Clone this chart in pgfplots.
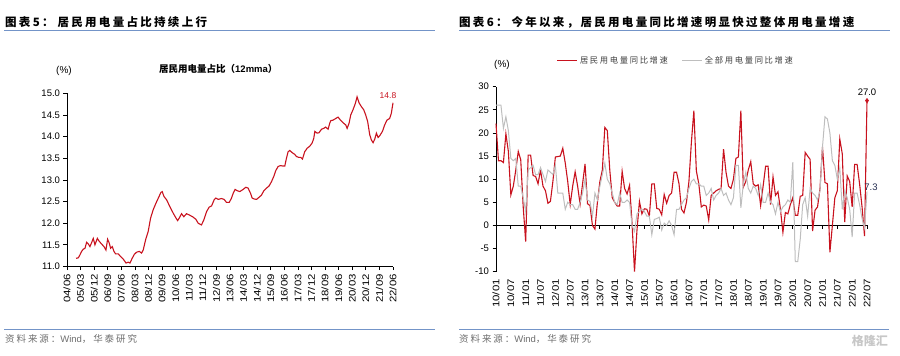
\documentclass[border=0pt]{standalone}
\usepackage{pgfplots}
\pgfplotsset{compat=1.18}
\usepackage{fontspec}
\setmainfont{Liberation Sans}
\newfontfamily\cjk{Noto Sans CJK SC}
\newfontfamily\cjkt{Noto Sans CJK SC}[LetterSpace=20]
\definecolor{myred}{RGB}{200,18,30}
\definecolor{mygray}{RGB}{190,190,190}
\definecolor{rulec}{RGB}{115,148,200}
\definecolor{srcc}{RGB}{110,110,110}
\definecolor{navyc}{RGB}{35,45,80}
\begin{document}
\begin{tikzpicture}[x=1pt,y=1pt]
\useasboundingbox (0pt,0pt) rectangle (900pt,-356pt);
% titles and rules
\node[anchor=west, inner sep=0] at (5pt,-22pt) {\bfseries\cjkt\fontsize{11.5}{12}\selectfont 图表5：\hspace{4pt}居民用电量占比持续上行};
\node[anchor=west, inner sep=0] at (459pt,-22pt) {\bfseries\cjkt\fontsize{11.5}{12}\selectfont 图表6：\hspace{4pt}今年以来，居民用电量同比增速明显快过整体用电量增速};
\draw[rulec, line width=0.9pt] (4pt,-30.3pt) -- (435pt,-30.3pt);
\draw[rulec, line width=0.9pt] (459pt,-30.3pt) -- (890pt,-30.3pt);
\draw[rulec, line width=0.9pt] (4pt,-329pt) -- (435pt,-329pt);
\draw[rulec, line width=0.9pt] (459pt,-329pt) -- (889pt,-329pt);
\node[anchor=west, inner sep=0, text=srcc] at (5pt,-339pt) {\cjkt\fontsize{9.5}{10}\selectfont 资料来源：{\fontspec{Liberation Sans}Wind}，华泰研究};
\node[anchor=west, inner sep=0, text=srcc] at (459pt,-339pt) {\cjkt\fontsize{9.5}{10}\selectfont 资料来源：{\fontspec{Liberation Sans}Wind}，华泰研究};
\node[anchor=east, inner sep=0, text=black!22] at (888pt,-341pt) {\bfseries\cjk\fontsize{12}{13}\selectfont 格隆汇};
% panel labels
\node[inner sep=0] at (64pt,-71pt) {\fontsize{10}{11}\selectfont (\%)};
\node[anchor=west, inner sep=0] at (159pt,-69pt) {\bfseries\cjk\fontsize{9.5}{10}\selectfont 居民用电量占比（{\fontspec{Liberation Sans}12mma}）};
\node[inner sep=0] at (502pt,-65pt) {\fontsize{10}{11}\selectfont (\%)};

\begin{axis}[
  at={(67pt,-266.5pt)}, anchor=south west, scale only axis,
  width=326pt, height=173.2pt,
  xmin=0, xmax=216, ymin=11, ymax=15,
  enlargelimits=false,
  axis lines*=left,
  axis line style={black, line width=0.9pt},
  tick align=outside, major tick length=3.5pt,
  tick style={black, line width=0.8pt},
  xtick={0,9,...,216},
  xticklabels={04/06,05/03,05/12,06/09,07/06,08/03,08/12,09/09,10/06,11/03,11/12,12/09,13/06,14/03,14/12,15/09,16/06,17/03,17/12,18/09,19/06,20/03,20/12,21/09,22/06},
  x tick label style={rotate=90, anchor=east, xscale=1.2, font=\fontsize{9.5}{10}\selectfont},
  ytick={11,11.5,...,15},
  y tick label style={font=\fontsize{9.5}{10}\selectfont},
  yticklabel style={/pgf/number format/.cd, fixed, fixed zerofill, precision=1, assume math mode=true},
  clip=false,
]
\addplot[myred, line width=1.1pt] coordinates {
(6,11.19)(7.5,11.2)(8.6,11.27)(9.7,11.35)(10.8,11.4)(11.9,11.42)(13.0,11.56)(14.1,11.52)(15.2,11.46)(16.3,11.55)(17.4,11.65)(18.5,11.5)(20.1,11.65)(21.4,11.58)(22.9,11.52)(24.5,11.46)(25.8,11.38)(26.9,11.63)(28.0,11.54)(28.9,11.42)(30.0,11.46)(31.1,11.35)(32.2,11.29)(34.0,11.29)(35.5,11.23)(37.3,11.17)(39.1,11.08)(40.6,11.1)(41.7,11.08)(43.2,11.19)(44.6,11.28)(46.1,11.33)(47.9,11.35)(49.4,11.31)(50.5,11.38)(52.1,11.62)(53.8,11.81)(55.4,12.12)(57.1,12.31)(58.9,12.46)(60.5,12.58)(62.2,12.71)(63.1,12.73)(64.2,12.62)(66.0,12.54)(68.2,12.38)(70.4,12.23)(72.2,12.12)(73.3,12.06)(74.4,12.12)(75.9,12.22)(77.4,12.15)(79.2,12.22)(81.0,12.19)(83.2,12.15)(85.4,12.09)(86.9,12.0)(89.1,11.96)(90.7,12.08)(92.5,12.27)(94.2,12.37)(95.8,12.4)(97.5,12.54)(98.6,12.58)(100.2,12.55)(102.4,12.57)(104.1,12.55)(105.7,12.48)(107.5,12.48)(109.0,12.58)(110.1,12.69)(111.4,12.78)(112.8,12.75)(114.5,12.73)(116.7,12.78)(118.5,12.83)(120.0,12.81)(121.6,12.69)(122.7,12.58)(124.0,12.56)(125.6,12.55)(127.3,12.6)(128.9,12.65)(130.4,12.75)(132.2,12.81)(133.9,12.86)(135.5,12.96)(137.0,13.08)(138.4,13.22)(139.9,13.31)(141.4,13.33)(143.2,13.32)(144.3,13.32)(145.4,13.5)(146.5,13.65)(147.6,13.68)(149.2,13.63)(150.9,13.59)(152.0,13.54)(153.6,13.52)(154.9,13.52)(156.0,13.48)(157.5,13.65)(159.1,13.73)(160.9,13.78)(162.4,13.85)(163.5,13.96)(164.2,14.12)(165.7,14.08)(167.0,14.09)(168.6,14.17)(170.1,14.19)(171.4,14.22)(173.0,14.17)(174.1,14.31)(174.8,14.37)(176.3,14.38)(178.1,14.42)(179.6,14.45)(181.2,14.38)(182.9,14.32)(184.7,14.27)(185.6,14.19)(186.9,14.31)(188.0,14.5)(189.5,14.62)(191.1,14.77)(192.2,14.92)(193.5,14.78)(195.1,14.69)(196.6,14.62)(197.9,14.5)(199.2,14.35)(200.6,14.04)(201.7,13.92)(202.8,13.86)(203.9,13.94)(205.0,14.08)(206.1,13.98)(207.2,14.02)(209.0,14.12)(210.5,14.27)(212.0,14.38)(213.8,14.42)(214.9,14.54)(216.0,14.78)
};
\node[text=myred, anchor=south, inner sep=0, font=\fontsize{8.5}{9}\selectfont] at (axis cs:216,14.78) [xshift=-5pt, yshift=4pt] {14.8};
\end{axis}

\begin{axis}[
  at={(496pt,-271.7pt)}, anchor=south west, scale only axis,
  width=371pt, height=185pt,
  xmin=0, xmax=150, ymin=-10, ymax=30,
  enlargelimits=false,
  axis y line*=left, axis x line*=middle,
  hide obscured x ticks=false, hide obscured y ticks=false,
  axis line style={black, line width=0.9pt},
  tick align=outside, major tick length=3.5pt,
  tick style={black, line width=0.8pt},
  xtick={0,6,...,150},
  xticklabels={10/01,10/07,11/01,11/07,12/01,12/07,13/01,13/07,14/01,14/07,15/01,15/07,16/01,16/07,17/01,17/07,18/01,18/07,19/01,19/07,20/01,20/07,21/01,21/07,22/01,22/07},
  xticklabel shift=46pt,
  x tick label style={rotate=90, anchor=east, xscale=1.2, font=\fontsize{9.5}{10}\selectfont},
  ytick={-10,-5,...,30},
  y tick label style={font=\fontsize{9.5}{10}\selectfont},
  yticklabel style={/pgf/number format/.cd, assume math mode=true},
  clip=false,
  legend style={at={(0.485,1)}, anchor=center, yshift=26pt, draw=none, fill=none, legend columns=2,
    font=\cjkt\fontsize{8.3}{9}\selectfont, text=black!75,
    /tikz/every even column/.append style={column sep=12pt}},
  legend image code/.code={\draw[#1] (0pt,0pt) -- (20pt,0pt);},
]
\addplot[myred, line width=1.1pt] coordinates {
(0,22)(1,14)(2,14)(3,13.6)(4,19.8)(5,16)(6,6.6)(7,8.5)(8,12)(9,16)(10,14.2)(11,4)(12,-3.5)(13,15.2)(14,15.2)(15,10.8)(16,10.6)(17,9)(18,12)(19,8.5)(20,7.5)(21,4.8)(22,5.2)(23,9.5)(24,14.8)(25,14.9)(26,15)(27,16.7)(28,13.5)(29,9.5)(30,4.5)(31,8.5)(32,11.6)(33,8.5)(34,4.6)(35,9)(36,13.3)(37,4.7)(38,4.3)(39,0)(40,-0.8)(41,5)(42,9.5)(43,12)(44,21.2)(45,20.5)(46,12)(47,6)(48,5)(49,4.2)(50,4.2)(51,11.7)(52,8)(53,6.8)(54,8.7)(55,0.5)(56,-10)(57,-1)(58,5.2)(59,2.5)(60,3.6)(61,3.5)(62,2)(63,9)(64,9)(65,3.7)(66,3.5)(67,2.3)(68,6.7)(69,4.8)(70,6.5)(71,7)(72,11.5)(73,11.5)(74,9)(75,3.5)(76,2.7)(77,5)(78,9.5)(79,18)(80,24.8)(81,11.8)(82,9)(83,4)(84,4.4)(85,4.2)(86,1.2)(87,6.5)(88,7)(89,7.5)(90,7.8)(91,8)(92,16.5)(93,11.5)(94,8.5)(95,8)(96,10)(97,14.5)(98,14.8)(99,24.8)(100,8.3)(101,9.5)(102,12)(103,13.8)(104,9)(105,8.5)(106,8.8)(107,4.3)(108,8.5)(109,12.8)(110,12.8)(111,4.5)(112,10.5)(113,6.5)(114,7.3)(115,3.5)(116,-1.5)(117,2.8)(118,2.5)(119,4.5)(120,6)(121,2.2)(122,2.2)(123,6.3)(124,6.5)(125,15.8)(126,15)(127,14.3)(128,-1.2)(129,3.3)(130,4)(131,8)(132,17)(133,9.3)(134,9)(135,-5.8)(136,0)(137,6)(138,7.5)(139,18.7)(140,15.5)(141,0.7)(142,10.7)(143,9.5)(144,4)(145,13.2)(146,13.2)(147,9)(148,4)(149,-2.3)(150,27)
};
\addlegendentry{居民用电量同比增速}
\addplot[mygray, line width=1pt] coordinates {
(0,26)(1,26)(2,26)(3,21)(4,23.5)(5,20.5)(6,14.5)(7,14)(8,14.5)(9,8.5)(10,8.5)(11,6)(12,3)(13,12)(14,12.5)(15,13)(16,11)(17,11)(18,12.5)(19,11)(20,9.5)(21,12)(22,11.5)(23,11)(24,13)(25,7)(26,7)(27,7)(28,3.5)(29,5)(30,4.5)(31,4.5)(32,3.5)(33,3.5)(34,5)(35,7)(36,10)(37,5.5)(38,5.2)(39,2)(40,7)(41,5.5)(42,8.5)(43,11)(44,13.5)(45,10)(46,9)(47,7)(48,5)(49,4.5)(50,7)(51,5)(52,5)(53,5.5)(54,5)(55,0)(56,-1.3)(57,2.5)(58,3)(59,3.5)(60,3)(61,2)(62,2)(63,-2)(64,1.3)(65,1.5)(66,1.8)(67,-1)(68,0.5)(69,0)(70,1)(71,0)(72,-2)(73,3.5)(74,3.5)(75,4.5)(76,5.5)(77,6)(78,8)(79,9.5)(80,10)(81,9)(82,9)(83,8.5)(84,8.5)(85,6.5)(86,7)(87,8)(88,5.5)(89,6.5)(90,7)(91,8)(92,6.5)(93,7)(94,5.5)(95,4.5)(96,6)(97,13)(98,13)(99,3.8)(100,9)(101,11.5)(102,8)(103,7)(104,8.5)(105,8)(106,6.5)(107,8.8)(108,5)(109,5)(110,7)(111,5)(112,4.5)(113,2.5)(114,5)(115,3)(116,4)(117,4.5)(118,5.5)(119,5)(120,13.7)(121,-7.8)(122,-7.8)(123,-3)(124,4.5)(125,6)(126,2)(127,8)(128,7)(129,6.5)(130,5.5)(131,7.5)(132,17)(133,23.5)(134,23)(135,20)(136,14)(137,13)(138,10)(139,12.5)(140,3.5)(141,7.5)(142,6)(143,3.5)(144,-2.5)(145,7)(146,7)(147,4.5)(148,1.5)(149,-0.5)(150,7.3)
};
\addlegendentry{全部用电量同比增速}
\addplot[myred, only marks, mark=diamond*, mark size=2.2pt, forget plot] coordinates {(150,27)};
\node[anchor=south, inner sep=0, font=\fontsize{9.5}{10}\selectfont] at (axis cs:150,27) [yshift=5pt] {27.0};
\node[anchor=south, inner sep=0, text=navyc, font=\fontsize{9.5}{10}\selectfont] at (axis cs:150,7.3) [xshift=4pt, yshift=1pt] {7.3};
\end{axis}
\end{tikzpicture}
\end{document}
